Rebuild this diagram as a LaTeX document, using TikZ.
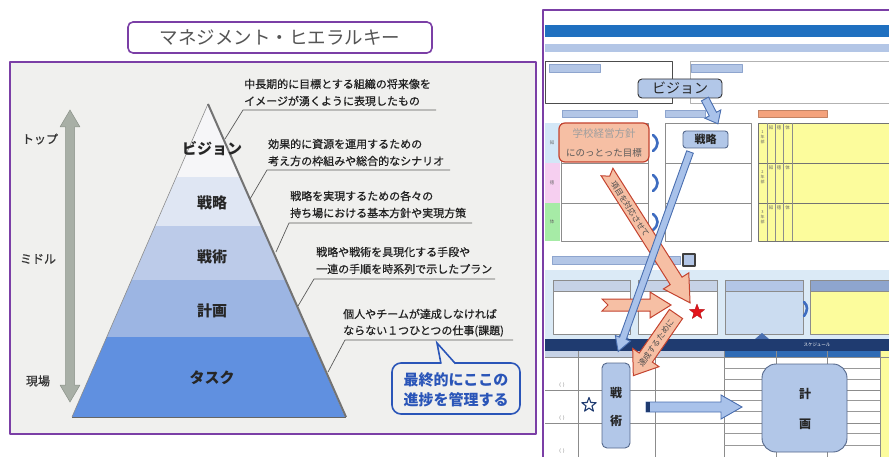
\documentclass[tikz,border=0pt]{standalone}
\usepackage{fontspec}
\newfontfamily\jp{Noto Sans CJK JP}
\newfontfamily\jpm{Noto Sans CJK JP}[FakeBold=0.8]
\usetikzlibrary{shapes.geometric}
\definecolor{purp}{HTML}{7B3FA6}
\definecolor{framebg}{HTML}{F0F0EE}
\definecolor{titlegray}{HTML}{555555}
\definecolor{tierV}{HTML}{F6F6F8}
\definecolor{tierS}{HTML}{DFE6F3}
\definecolor{tierT}{HTML}{BCCBE9}
\definecolor{tierK}{HTML}{9CB5E3}
\definecolor{tierTask}{HTML}{6090E0}
\definecolor{arrowgray}{HTML}{A8AFA6}
\definecolor{arrowgrayd}{HTML}{8A9188}
\definecolor{leadc}{HTML}{5A5A5A}
\definecolor{desctext}{HTML}{222222}
\definecolor{callblue}{HTML}{2A55B8}
\definecolor{hdrblue}{HTML}{1F70C0}
\definecolor{lbar}{HTML}{B3C6E6}
\definecolor{lbard}{HTML}{8EA5CE}
\definecolor{boxblue}{HTML}{B2C7E8}
\definecolor{boxblued}{HTML}{56698C}
\definecolor{orangebar}{HTML}{F4A27C}
\definecolor{stripblue}{HTML}{D3E7F7}
\definecolor{strippink}{HTML}{F6CFF0}
\definecolor{stripgreen}{HTML}{A6EBA6}
\definecolor{gridgray}{HTML}{8C8C8C}
\definecolor{yel}{HTML}{FCFC9C}
\definecolor{salmon}{HTML}{F6BFA4}
\definecolor{salmond}{HTML}{C4432F}
\definecolor{chevblue}{HTML}{3E6CC0}
\definecolor{arrblue}{HTML}{A9C2EA}
\definecolor{arrblued}{HTML}{4A6FB0}
\definecolor{band}{HTML}{DBEAF6}
\definecolor{navy}{HTML}{1F3B70}
\definecolor{midblue}{HTML}{2F6BB5}
\definecolor{hdrlight}{HTML}{C6D2E6}
\definecolor{starred}{HTML}{E3151B}
% block arrow: #1 style, #2 #3 tail, #4 angle, #5 length, #6 shaft half width, #7 head half width, #8 head length, #9 notch
\newcommand\blockarrow[9]{%
  \begin{scope}[shift={(#2,#3)},rotate=#4]
    \draw[#1] (0,-#6) -- ({#5-#8},-#6) -- ({#5-#8},-#7) -- (#5,0) -- ({#5-#8},#7) -- ({#5-#8},#6) -- (0,#6) -- (#9,0) -- cycle;
  \end{scope}}
\tikzset{
  tierlab/.style={inner sep=0, font=\jp\bfseries\fontsize{15}{18}\selectfont, text=black!85},
  desc/.style={anchor=west, inner sep=0, font=\jpm\fontsize{11}{14}\selectfont, text=desctext},
  leader/.style={draw=leadc, line width=0.7pt},
  sidelab/.style={inner sep=0, font=\jpm\fontsize{12}{14}\selectfont, text=black!80},
  labbar/.style={fill=lbar, draw=lbard, line width=0.4pt},
  grid/.style={draw=gridgray, line width=0.6pt},
  bluebox/.style={fill=boxblue, draw=boxblued, line width=0.9pt},
  salmonarrow/.style={fill=salmon, draw=salmond, line width=1pt, line join=miter},
  bluearrow/.style={fill=arrblue, draw=arrblued, line width=0.9pt, line join=miter},
  chev/.style={draw=chevblue, line width=2.6pt, line cap=round},
  tiny/.style={inner sep=0, font=\jp\fontsize{4.5}{5}\selectfont, text=black!60},
  boldlab/.style={inner sep=0, font=\jp\bfseries\fontsize{12}{14}\selectfont, text=black!85}
}
\begin{document}
\begin{tikzpicture}[x=1pt,y=-1pt,font=\jp,line join=round]
\useasboundingbox (0,0) rectangle (889,457);
\fill[white] (0,0) rectangle (889,457);

%================ LEFT PANEL =================
\node[draw=purp, line width=1.6pt, rounded corners=5pt, minimum width=304pt, minimum height=31pt,
      fill=white, text=titlegray, font=\jp\fontsize{18.5}{21}\selectfont] (title) at (280,37.5) {マネジメント・ヒエラルキー};
\draw[purp, line width=2.8pt, fill=framebg] (10,62) rectangle (536,434);

% vertical double arrow
\draw[fill=arrowgray, draw=arrowgrayd, line width=0.5pt]
  (70,110) -- (80,127) -- (74.5,127) -- (74.5,385) -- (80,385) -- (70,402) -- (60,385) -- (65.5,385) -- (65.5,127) -- (60,127) -- cycle;
\node[sidelab] (ltop) at (40,139) {トップ};
\node[sidelab] (lmid) at (38,259) {ミドル};
\node[sidelab] (lbot) at (38,381) {現場};

% pyramid
\begin{scope}
  \clip (208,104) -- (345,417) -- (72,417) -- cycle;
  \fill[tierV] (0,100) rectangle (400,177);
  \fill[tierS] (0,177) rectangle (400,226);
  \fill[tierT] (0,226) rectangle (400,280);
  \fill[tierK] (0,280) rectangle (400,337);
  \fill[tierTask] (0,337) rectangle (400,418);
\end{scope}
\draw[black!45, line width=0.6pt] (72,417) -- (208,104);
\draw[black!55, line width=2pt] (208,104) -- (346,417);
\draw[black!60, line width=1pt] (72,417.5) -- (346,417.5);

\node[tierlab] (vision) at (212,149) {ビジョン};
\node[tierlab] (strat) at (212,203) {戦略};
\node[tierlab] (tact) at (212,257) {戦術};
\node[tierlab] (plan) at (212,311) {計画};
\node[tierlab] (task) at (212,378) {タスク};

% descriptions
\node[desc] (d1a) at (244,84) {中長期的に目標とする組織の将来像を};
\node[desc] (d1b) at (244,101) {イメージが湧くように表現したもの};
\node[desc] (d2a) at (268,144) {効果的に資源を運用するための};
\node[desc] (d2b) at (268,161) {考え方の枠組みや総合的なシナリオ};
\node[desc] (d3a) at (290,196) {戦略を実現するための各々の};
\node[desc] (d3b) at (290,213) {持ち場における基本方針や実現方策};
\node[desc] (d4a) at (316,252) {戦略や戦術を具現化する手段や};
\node[desc] (d4b) at (316,269) {一連の手順を時系列で示したプラン};
\node[desc] (d5a) at (343,314) {個人やチームが達成しなければ};
\node[desc] (d5b) at (343,331) {ならない１つひとつの仕事(課題)};

\coordinate (p1) at (225,139); \coordinate (u1) at (243,110); \coordinate (v1) at (436,110);
\coordinate (p2) at (250,199); \coordinate (u2) at (267,170); \coordinate (v2) at (450,170);
\coordinate (p3) at (276,252); \coordinate (u3) at (289,223); \coordinate (v3) at (472,223);
\coordinate (p4) at (298,306); \coordinate (u4) at (314,279); \coordinate (v4) at (495,279);
\coordinate (p5) at (328,372); \coordinate (u5) at (345,340); \coordinate (v5) at (513,340);
\foreach \i in {1,...,5} { \draw[leader] (p\i) -- (u\i) -- (v\i); }

% callout
\draw[callblue, line width=1.6pt, fill=framebg, rounded corners=9pt] (392,363) rectangle (520,414);
\fill[framebg] (441,364.6) -- (437,343) -- (455.5,364.6) -- cycle;
\draw[callblue, line width=1.6pt, line join=miter] (441,363.7) -- (437,343) -- (455.5,363.7);
\node[inner sep=0, align=center, font=\jp\bfseries\fontsize{15}{20}\selectfont, text=callblue] (callout) at (456,390)
  {最終的にここの\\進捗を管理する};

%================ RIGHT PANEL =================
\draw[purp, line width=2.5pt] (543,458) -- (543,10) -- (890,10);
\fill[hdrblue] (545,25) rectangle (889,37);
\fill[lbar] (545,44) rectangle (889,52);

% row 1
\draw[draw=black!70, line width=0.9pt] (545,61) rectangle (672,103);
\draw[labbar] (549,64) rectangle (600,72);
\draw[draw=black!30, line width=0.6pt] (690,61) rectangle (889,103);
\draw[labbar] (691,64) rectangle (742,72);

% section labels
\draw[labbar] (562,110) rectangle (637,117);
\draw[labbar] (665,110) rectangle (705,117);
\draw[fill=orangebar, draw=orangebar!80!black, line width=0.4pt] (758,110) rectangle (827,117);

% colour strips
\fill[stripblue] (545,123) rectangle (560,163);
\fill[strippink] (545,163) rectangle (560,203);
\fill[stripgreen] (545,203) rectangle (560,241);
\node[tiny] (k1) at (552,143) {知};
\node[tiny] (k2) at (552,183) {徳};
\node[tiny] (k3) at (552,222) {体};

% grid 1 and grid 2
\draw[grid] (561,123) rectangle (648,241);
\draw[grid] (561,163) -- (648,163) (561,203) -- (648,203);
\draw[grid] (665,123) rectangle (751,241);
\draw[grid] (665,163) -- (751,163) (665,203) -- (751,203);
\foreach \yy in {143,183,222} {
  \draw[chev] (653,{\yy-8}) .. controls (659,{\yy-3}) and (659,{\yy+3}) .. (653,{\yy+8});
}

% yellow grid
\draw[fill=yel, draw=black!55, line width=0.7pt] (758,123) rectangle (889,241);
\draw[black!55, line width=0.7pt] (758,163) -- (889,163) (758,203) -- (889,203);
\foreach \xx in {767,775,783,792} { \draw[black!45, line width=0.5pt] (\xx,123) -- (\xx,241); }
\foreach \yy/\nm in {123/1,163/2,203/3} {
  \node[tiny] (c1\nm) at (771,{\yy+5}) {知};
  \node[tiny] (c2\nm) at (779,{\yy+5}) {徳};
  \node[tiny] (c3\nm) at (787.5,{\yy+5}) {体};
}
\node[tiny, align=center, font=\jp\fontsize{4}{5}\selectfont] (y1) at (762.5,137) {1\\年\\部};
\node[tiny, align=center, font=\jp\fontsize{4}{5}\selectfont] (y2) at (762.5,177) {2\\年\\部};
\node[tiny, align=center, font=\jp\fontsize{4}{5}\selectfont] (y3) at (762.5,217) {3\\年\\部};

% bar and small box
\draw[labbar] (552,256) rectangle (680,264);
\draw[fill=lbar, draw=black!75, line width=1.1pt] (683,254) rectangle (695,266);

% light band and four boxes
\fill[band] (545,270) rectangle (889,339);
\foreach \xa/\xb/\body/\head in {553/630/white/hdrlight, 638/717/white/hdrlight, 725/803/band!60!lbar/lbar, 810/889/yel/lbard} {
  \draw[fill=\body, draw=black!45, line width=0.6pt] (\xa,280) rectangle (\xb,334);
  \draw[fill=\head, draw=black!45, line width=0.6pt] (\xa,280) rectangle (\xb,291);
}
\draw[chev] (804,302) .. controls (808,306) and (808,310) .. (804,316);

% schedule table
\fill[arrblued] (615,339) -- (622,333) -- (629,339) -- cycle;
\fill[arrblued] (755,339) -- (762,333) -- (769,339) -- cycle;
\fill[navy] (545,339) rectangle (889,351);
\node[tiny, text=white, font=\jp\fontsize{4.5}{5}\selectfont] (sched) at (817,345) {スケジュール};
\fill[hdrlight] (545,351) rectangle (724,357);
\fill[midblue] (724,351) rectangle (880,357);
\fill[yel] (880,351) rectangle (889,457);
\draw[grid] (545,357) -- (889,357);
\foreach \xx in {578,655,724,880} { \draw[grid] (\xx,351) -- (\xx,457); }
\foreach \xx in {776,827} { \draw[grid] (\xx,351) -- (\xx,457); }
\draw[grid] (545,390) -- (880,390) (545,423) -- (880,423);
\foreach \yy in {368,379,400,411,433,445} { \draw[black!40, line width=0.5pt] (724,\yy) -- (880,\yy); }
\node[tiny] (br1) at (562,385) {(\ \ )};
\node[tiny] (br2) at (562,418) {(\ \ )};
\node[tiny] (br3) at (562,451) {(\ \ )};

%---- overlay boxes
\node[draw=black!80, fill=boxblue, line width=0.9pt, rounded corners=4pt, minimum width=84pt, minimum height=19pt,
      inner sep=0, font=\jp\fontsize{14}{16}\selectfont, text=black!85] (visbox) at (680,88.5) {ビジョン};
\node[draw=salmond, fill=salmon, line width=1.2pt, rounded corners=6pt, minimum width=90pt, minimum height=39pt,
      inner sep=0] (goalbox) at (604,142.5) {};
\node[inner sep=0, font=\jp\fontsize{10.5}{12}\selectfont, text=black!38] (goal1) at (604,134) {学校経営方針};
\node[inner sep=0, font=\jp\fontsize{9.5}{11}\selectfont, text=black!65] (goal2) at (604,153) {にのっとった目標};
\node[bluebox, rounded corners=3pt, minimum width=45pt, minimum height=17pt, inner sep=0,
      font=\jp\bfseries\fontsize{11}{13}\selectfont, text=black!85] (stratbox) at (705.5,139.5) {戦略};

\node[star, star points=5, star point ratio=2.4, fill=white, draw=navy, line width=1.1pt,
      minimum size=15pt, inner sep=0] (wstar) at (589,405) {};
\node[bluebox, rounded corners=5pt, minimum width=28pt, minimum height=85pt, inner sep=0] (tactbox) at (616,405.5) {};
\node[boldlab] (tact1) at (616,393) {戦};
\node[boldlab] (tact2) at (616,421) {術};
\node[bluebox, rounded corners=14pt, minimum width=85pt, minimum height=88pt, inner sep=0] (planbox) at (804.5,408) {};
\node[boldlab] (plan1) at (805,394) {計};
\node[boldlab] (plan2) at (805,424) {画};

%---- arrows
\blockarrow{bluearrow}{705}{99}{-62.5}{28}{4}{9}{11}{0}
\blockarrow{bluearrow}{646}{407}{0}{96}{5}{12}{21}{0}
\fill[navy] (646,402) rectangle (650,412);
\blockarrow{salmonarrow}{607}{172}{-57.6}{155}{7}{15}{26}{5}
\node[inner sep=0, rotate=-57.6, font=\jp\fontsize{8}{9}\selectfont, text=black!70] (txt1) at (630,209) {項目を対応させて};
\blockarrow{salmonarrow}{602}{305}{0}{69}{6}{13}{21}{6}
\blockarrow{bluearrow}{690}{152}{-109.8}{212}{3.5}{8}{14}{0}
\node[star, star points=5, star point ratio=2.4, fill=starred, draw=starred!80!black, line width=0.4pt,
      minimum size=16pt, inner sep=0] (rstar) at (697,312) {};
\blockarrow{salmonarrow}{676}{314}{-124.7}{75}{8}{16}{22}{0}
\node[inner sep=0, rotate=55.3, font=\jp\fontsize{8}{9}\selectfont, text=black!70] (txt2) at (656,343) {達成するために};

\end{tikzpicture}
\end{document}
